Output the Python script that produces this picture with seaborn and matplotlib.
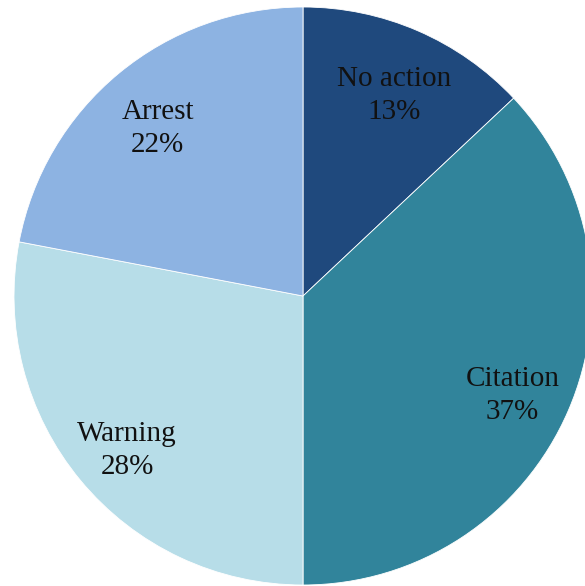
"""Pie chart of enforcement outcomes."""

import matplotlib

matplotlib.use("Agg")
import matplotlib.pyplot as plt
import seaborn as sns

categories = ["No action", "Citation", "Warning", "Arrest"]
shares = [13, 37, 28, 22]
colors = ["#1F497D", "#31849B", "#B7DDE8", "#8DB3E2"]

sns.set_theme(style="white")
plt.rcParams["font.family"] = ["Liberation Serif", "DejaVu Serif"]

fig = plt.figure(figsize=(5.85, 5.86), dpi=100)
ax = fig.add_axes([0, 0, 1, 1])

labels_iter = iter(categories)


def fmt(pct):
    return f"{next(labels_iter)}\n{pct:.0f}%"


wedges, texts, autotexts = ax.pie(
    shares,
    colors=colors,
    startangle=90,
    counterclock=False,
    radius=1.0,
    autopct=fmt,
    pctdistance=0.79,
    wedgeprops=dict(edgecolor="white", linewidth=0.6),
    textprops=dict(color="#111111", fontsize=21, linespacing=1.35),
)

# labels sit a touch lower than the default placement
for t in autotexts:
    x, y = t.get_position()
    t.set_position((x, y - 0.03))

# pie centre sits at ~(303, 296) px with radius ~289 px
r_px = 289
ax.set_xlim(-303 / r_px, (585 - 303) / r_px)
ax.set_ylim(-(586 - 296) / r_px, 296 / r_px)
ax.set_aspect("auto")
ax.axis("off")

fig.savefig("out.png", dpi=100, facecolor="white")
plt.close(fig)
